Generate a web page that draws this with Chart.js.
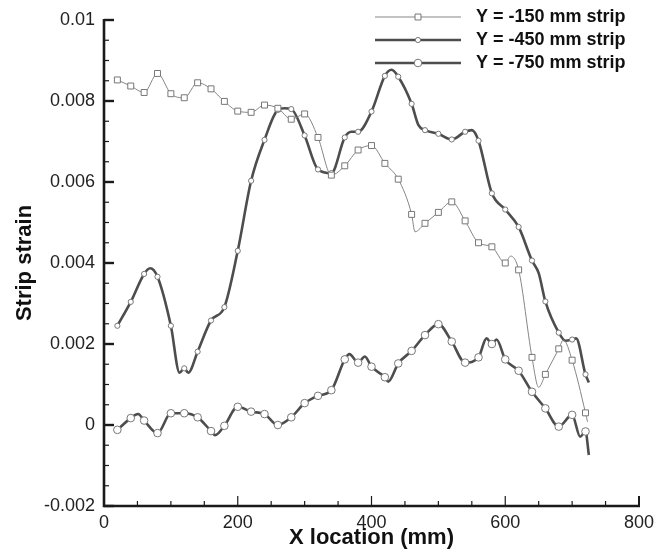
<!DOCTYPE html>
<html>
<head>
<meta charset="utf-8">
<script src="https://cdn.jsdelivr.net/npm/chart.js@4.4.1/dist/chart.umd.min.js"></script>
<style>
  html, body { margin: 0; padding: 0; background: #fff; }
  #wrap { width: 669px; height: 554px; }
</style>
</head>
<body>
<div id="wrap"><canvas id="strainChart" width="669" height="554"></canvas></div>
<script>
// x positions (mm) and strains
// points on a multiple of 20 mm carry a marker, the others only shape the line
const x150 = [20, 40, 60, 80, 100, 120, 140, 160, 180, 200, 220, 240, 260, 280, 300, 320, 340, 360, 380, 400,
              420, 440, 460, 465, 480, 500, 520, 540, 560, 580, 600, 608, 620, 640, 650, 660, 680, 687, 700, 720, 723];
const y150 = [0.00852, 0.00837, 0.00821, 0.00868, 0.00818, 0.00808, 0.00845, 0.0083, 0.00799, 0.00775, 0.00772, 0.0079, 0.00782, 0.00755, 0.00768, 0.0071, 0.00617, 0.0064, 0.00679, 0.0069,
              0.00646, 0.00607, 0.0052, 0.00477, 0.00498, 0.00525, 0.00551, 0.00504, 0.0045, 0.0044, 0.004, 0.00417, 0.00383, 0.00167, 0.00093, 0.00125, 0.00188, 0.0021, 0.0016, 0.0003, 0.00008];

const x450 = [20, 40, 60, 69, 80, 100, 113, 120, 126, 140, 160, 180, 200, 220, 240, 260, 270, 280, 300, 320, 340, 360, 370, 380,
              400, 420, 430, 440, 460, 470, 480, 500, 520, 540, 550, 560, 580, 600, 620, 640, 650, 660, 680, 690, 700, 706, 720, 725];
const y450 = [0.00245, 0.00304, 0.00373, 0.00387, 0.00366, 0.00245, 0.00129, 0.0014, 0.00129, 0.00181, 0.00258, 0.00291, 0.0043, 0.00603, 0.00704, 0.00778, 0.00782, 0.0078, 0.00715, 0.00631, 0.00622, 0.0071, 0.00724, 0.00724,
              0.00774, 0.00862, 0.00877, 0.0086, 0.00793, 0.00741, 0.00728, 0.00719, 0.00705, 0.00724, 0.00728, 0.00702, 0.00572, 0.00532, 0.00489, 0.00406, 0.00375, 0.00305, 0.00228, 0.00208, 0.00211, 0.00214, 0.00125, 0.00105];

const x750 = [20, 40, 51, 60, 80, 100, 120, 140, 160, 166, 180, 200, 220, 240, 260, 280, 300, 320, 340, 360, 367, 380, 390, 400,
              420, 425, 440, 460, 480, 500, 520, 540, 560, 572, 580, 587, 600, 620, 640, 660, 680, 700, 712, 720, 725];
const y750 = [-0.00012, 0.00017, 0.00027, 0.00011, -0.0002, 0.00029, 0.00029, 0.00019, -0.00015, -0.00025, -0.00002, 0.00045, 0.00033, 0.00027, 0.0, 0.00019, 0.00054, 0.00072, 0.00086, 0.00162, 0.00175, 0.00154, 0.00169, 0.00144,
              0.00118, 0.00107, 0.00152, 0.00183, 0.00222, 0.00249, 0.00206, 0.00154, 0.00167, 0.00214, 0.002, 0.00211, 0.00162, 0.00134, 0.00082, 0.00041, -0.00004, 0.00025, -0.00029, -0.00016, -0.00074];

const seriesNames = ['Y = -150 mm strip', 'Y = -450 mm strip', 'Y = -750 mm strip'];
const xTicks = [0, 200, 400, 600, 800];
const yTicks = [-0.002, 0, 0.002, 0.004, 0.006, 0.008, 0.01];

const toPoints = (xs, ys) => xs.map((x, i) => ({ x: x, y: ys[i] }));
const markerOnly = (r) => (c) => (c.raw && c.raw.x % 20 === 0 ? r : 0);

const styles = [
  { color: '#858585', width: 1, pointStyle: 'rect', radius: 4.2, border: 1 },
  { color: '#4d4d4d', width: 2.6, pointStyle: 'circle', radius: 2.6, border: 1 },
  { color: '#4d4d4d', width: 2.6, pointStyle: 'circle', radius: 3.8, border: 1 }
];

const datasets = [toPoints(x150, y150), toPoints(x450, y450), toPoints(x750, y750)].map((pts, i) => ({
  label: seriesNames[i],
  data: pts,
  borderColor: styles[i].color,
  borderWidth: styles[i].width,
  pointStyle: styles[i].pointStyle,
  pointRadius: markerOnly(styles[i].radius),
  pointBackgroundColor: '#fff',
  pointBorderColor: '#777',
  pointBorderWidth: styles[i].border,
  cubicInterpolationMode: 'monotone',
  fill: false
}));

// axis lines and inward ticks, plus the legend in the top right corner
const framePlugin = {
  id: 'frame',
  afterDraw(chart) {
    const ctx = chart.ctx;
    const xs = chart.scales.x, ys = chart.scales.y;
    const left = chart.chartArea.left, bottom = chart.chartArea.bottom;
    ctx.save();
    ctx.strokeStyle = '#1a1a1a';
    ctx.lineWidth = 1.2;
    for (let v = 0; v <= 800; v += 50) {
      const px = xs.getPixelForValue(v);
      const len = v % 200 === 0 ? 10 : 5;
      ctx.beginPath(); ctx.moveTo(px, bottom); ctx.lineTo(px, bottom - len); ctx.stroke();
    }
    for (let k = 0; k <= 24; k++) {
      const v = -0.002 + k * 0.0005;
      const py = ys.getPixelForValue(v);
      const len = k % 4 === 0 ? 10 : 5;
      ctx.lineWidth = k % 4 === 0 ? 2.4 : 1.2;
      ctx.beginPath(); ctx.moveTo(left, py); ctx.lineTo(left + len, py); ctx.stroke();
    }
    ctx.lineWidth = 2.6;
    ctx.beginPath();
    ctx.moveTo(left, ys.getPixelForValue(0.01) - 1);
    ctx.lineTo(left, bottom);
    ctx.lineTo(xs.getPixelForValue(800) + 1, bottom);
    ctx.stroke();
    ctx.lineWidth = 2;
    ctx.beginPath();
    ctx.moveTo(xs.getPixelForValue(800), bottom);
    ctx.lineTo(xs.getPixelForValue(800), bottom - 10);
    ctx.stroke();

    // legend
    const rowY = [17, 40, 63];
    ctx.font = 'bold 18px "Liberation Sans", Arial, sans-serif';
    ctx.textBaseline = 'middle';
    ctx.fillStyle = '#111';
    seriesNames.forEach((name, i) => {
      const st = styles[i];
      ctx.strokeStyle = st.color;
      ctx.lineWidth = st.width;
      ctx.beginPath(); ctx.moveTo(375, rowY[i]); ctx.lineTo(461, rowY[i]); ctx.stroke();
      ctx.fillStyle = '#fff';
      ctx.strokeStyle = '#777';
      ctx.lineWidth = 1;
      ctx.beginPath();
      if (st.pointStyle === 'rect') {
        const s = st.radius * Math.SQRT1_2;
        ctx.rect(418 - s, rowY[i] - s, 2 * s, 2 * s);
      } else {
        ctx.arc(418, rowY[i], st.radius, 0, Math.PI * 2);
      }
      ctx.fill(); ctx.stroke();
      ctx.fillStyle = '#111';
      ctx.fillText(name, 476, rowY[i]);
    });
    ctx.restore();
  }
};

const fmt = (v) => String(parseFloat(Number(v).toFixed(4)));

new Chart(document.getElementById('strainChart').getContext('2d'), {
  type: 'line',
  data: { datasets: datasets },
  options: {
    responsive: false,
    animation: false,
    devicePixelRatio: 1,
    layout: { padding: { top: 20, right: 30, left: 0, bottom: 0 } },
    plugins: { legend: { display: false }, tooltip: { enabled: false } },
    scales: {
      x: {
        type: 'linear',
        min: 0, max: 800,
        afterFit: (s) => { s.height = 48; },
        afterBuildTicks: (s) => { s.ticks = xTicks.map(v => ({ value: v })); },
        grid: { display: false, drawTicks: false },
        border: { display: false },
        ticks: { padding: 6, color: '#222', font: { size: 18, family: '"Liberation Sans", Arial, sans-serif' }, maxRotation: 0, callback: (v) => fmt(v) },
        title: { display: true, text: 'X location (mm)', color: '#111', padding: { top: 0, bottom: 3 },
                 font: { size: 22, weight: 'bold', family: '"Liberation Sans", Arial, sans-serif' } }
      },
      y: {
        type: 'linear',
        min: -0.002, max: 0.01,
        afterFit: (s) => { s.width = 104; },
        afterBuildTicks: (s) => { s.ticks = yTicks.map(v => ({ value: v })); },
        grid: { display: false, drawTicks: false },
        border: { display: false },
        ticks: { padding: 9, color: '#222', font: { size: 18, family: '"Liberation Sans", Arial, sans-serif' }, callback: (v) => fmt(v) },
        title: { display: true, text: 'Strip strain', color: '#111', padding: { top: 12, bottom: 0 },
                 font: { size: 22, weight: 'bold', family: '"Liberation Sans", Arial, sans-serif' } }
      }
    }
  },
  plugins: [framePlugin]
});
</script>
</body>
</html>
